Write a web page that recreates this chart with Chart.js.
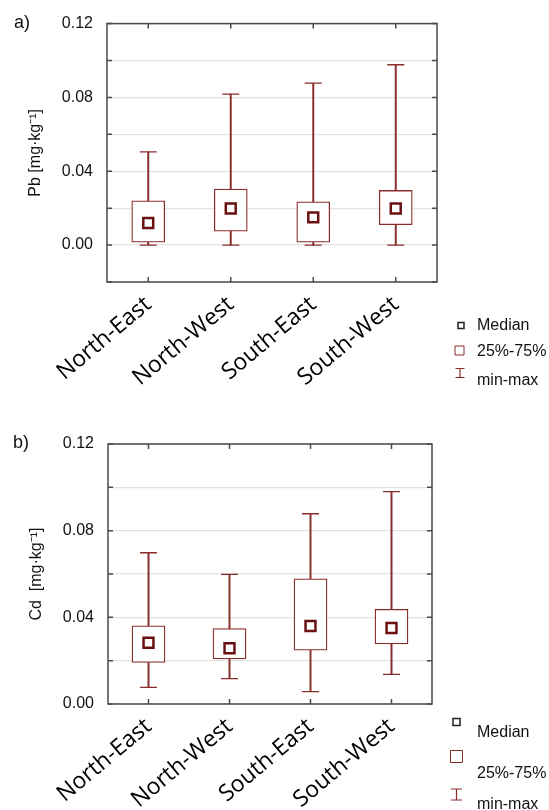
<!DOCTYPE html>
<html>
<head>
<meta charset="utf-8">
<script src="https://cdn.jsdelivr.net/npm/chart.js@4.4.1/dist/chart.umd.min.js"></script>
<style>
  html, body { margin: 0; padding: 0; background: #fff; }
  canvas { display: block; }
</style>
</head>
<body>
<canvas id="chart-pb" width="549" height="405"></canvas>
<canvas id="chart-cd" width="549" height="405"></canvas>
<script>
// regions on the x axis
const regions = ['North-East', 'North-West', 'South-East', 'South-West'];

// Pb [mg/kg] box stats, read off panel a)
const pbMin    = [0.0000, 0.0000, 0.0000, 0.0000];
const pbQ1     = [0.0016, 0.0075, 0.0016, 0.0111];
const pbMedian = [0.0120, 0.0198, 0.0150, 0.0198];
const pbQ3     = [0.0240, 0.0304, 0.0234, 0.0296];
const pbMax    = [0.0505, 0.0818, 0.0877, 0.0977];

// Cd [mg/kg] box stats, read off panel b)
const cdMin    = [0.0077, 0.0117, 0.0057, 0.0137];
const cdQ1     = [0.0192, 0.0208, 0.0248, 0.0277];
const cdMedian = [0.0283, 0.0257, 0.0360, 0.0351];
const cdQ3     = [0.0361, 0.0348, 0.0578, 0.0437];
const cdMax    = [0.0698, 0.0598, 0.0878, 0.0980];

// y ticks that carry a label
const yTickLabels = ['0.00', '0.04', '0.08', '0.12'];

const legendLabels = ['Median', '25%-75%', 'min-max'];

const boxColor = '#8a2c2c';
const medianColor = '#6a1010';

Chart.defaults.font.family = "'Liberation Sans', Arial, sans-serif";
Chart.defaults.color = '#111';

// box outline + inward tick marks round the plot area
const framePlugin = {
	id: 'frame',
	afterDatasetsDraw(chart) {
		const {ctx, chartArea: a, scales} = chart;
		ctx.save();
		ctx.strokeStyle = '#4a4a4a';
		ctx.lineWidth = 1.5;
		ctx.strokeRect(a.left, a.top, a.right - a.left, a.bottom - a.top);
		ctx.beginPath();
		scales.y.ticks.forEach(t => {
			const y = scales.y.getPixelForValue(t.value);
			ctx.moveTo(a.left, y);  ctx.lineTo(a.left + 5, y);
			ctx.moveTo(a.right, y); ctx.lineTo(a.right - 5, y);
		});
		scales.x.ticks.forEach((t, i) => {
			const x = scales.x.getPixelForTick(i);
			ctx.moveTo(x, a.top);    ctx.lineTo(x, a.top + 5);
			ctx.moveTo(x, a.bottom); ctx.lineTo(x, a.bottom - 5);
		});
		ctx.stroke();
		ctx.restore();
	}
};

// legend on the lower right and the panel letter
const sideLegendPlugin = {
	id: 'sideLegend',
	afterDraw(chart, args, o) {
		const ctx = chart.ctx;
		ctx.save();
		ctx.textBaseline = 'middle';
		ctx.fillStyle = '#111';
		ctx.font = '18px "Liberation Sans", Arial, sans-serif';
		ctx.fillText(o.panel, o.panelX, o.panelY);

		ctx.font = '16px "Liberation Sans", Arial, sans-serif';
		o.items.forEach((it, i) => {
			ctx.fillStyle = '#111';
			ctx.fillText(legendLabels[i], o.textX, it.textY);
			const s = it.size / 2;
			ctx.beginPath();
			if (i === 0) {
				ctx.strokeStyle = '#222';
				ctx.lineWidth = 1.5;
				ctx.rect(it.x - s, it.y - s, it.size, it.size);
			} else if (i === 1) {
				ctx.strokeStyle = boxColor;
				ctx.lineWidth = 1;
				ctx.rect(it.x - s, it.y - s, it.size, it.size);
			} else {
				ctx.strokeStyle = boxColor;
				ctx.lineWidth = 1.2;
				ctx.moveTo(it.x - s, it.y - s); ctx.lineTo(it.x + s, it.y - s);
				ctx.moveTo(it.x, it.y - s);     ctx.lineTo(it.x, it.y + s);
				ctx.moveTo(it.x - s, it.y + s); ctx.lineTo(it.x + s, it.y + s);
			}
			ctx.stroke();
		});
		ctx.restore();
	}
};

function boxDatasets(mins, q1s, meds, q3s, maxs) {
	return [
		{
			type: 'line', data: meds, showLine: false,
			pointStyle: 'rect', pointRadius: 7, pointHoverRadius: 7,
			borderColor: medianColor, backgroundColor: '#fff', borderWidth: 2.5, order: 0
		},{
			type: 'bar', data: q1s.map((q, i) => [q, q3s[i]]),
			backgroundColor: '#fff', borderColor: boxColor, borderWidth: 1.3,
			borderSkipped: false, barThickness: 33, grouped: false, order: 1
		},{
			type: 'bar', data: mins.map((m, i) => [m, q1s[i]]),
			backgroundColor: boxColor, borderWidth: 0, barThickness: 1.3, grouped: false, order: 2
		},{
			type: 'bar', data: q3s.map((q, i) => [q, maxs[i]]),
			backgroundColor: boxColor, borderWidth: 0, barThickness: 1.3, grouped: false, order: 2
		},{
			type: 'line', data: mins, showLine: false,
			pointStyle: 'line', pointRadius: 8.5, pointHoverRadius: 8.5,
			borderColor: boxColor, borderWidth: 1.3, order: 1
		},{
			type: 'line', data: maxs, showLine: false,
			pointStyle: 'line', pointRadius: 8.5, pointHoverRadius: 8.5,
			borderColor: boxColor, borderWidth: 1.3, order: 1
		}
	];
}

let charts = [
	{
		elementId: 'chart-pb',
		datasets:  boxDatasets(pbMin, pbQ1, pbMedian, pbQ3, pbMax),
		yTitle:    'Pb [mg·kg⁻¹]',
		yMin:      -0.02,
		yWidth:    107,
		xHeight:   123,
		pad:       { top: 20, right: 112 },
		titlePad:  26,
		legend: {
			panel: 'a)', panelX: 14, panelY: 23, textX: 477,
			items: [
				{ x: 461,   y: 325.5, size: 6, textY: 326 },
				{ x: 459.5, y: 350.5, size: 9, textY: 352 },
				{ x: 460,   y: 373,   size: 9, textY: 381 }
			]
		}
	},{
		elementId: 'chart-cd',
		datasets:  boxDatasets(cdMin, cdQ1, cdMedian, cdQ3, cdMax),
		yTitle:    'Cd  [mg·kg⁻¹]',
		yMin:      0,
		yWidth:    108,
		xHeight:   106,
		pad:       { top: 39, right: 117 },
		titlePad:  27,
		legend: {
			panel: 'b)', panelX: 13, panelY: 38, textX: 477,
			items: [
				{ x: 456.5, y: 317,   size: 7,  textY: 327.5 },
				{ x: 456.5, y: 351.5, size: 12, textY: 369 },
				{ x: 456.5, y: 389.5, size: 11, textY: 400 }
			]
		}
	}
];

for (let i = 0; i < charts.length; i++) {
	let c = charts[i];
	let ctx = document.getElementById(c.elementId).getContext('2d');

	new Chart(ctx, {
		type: 'bar',
		data: {
			labels: regions,
			datasets: c.datasets
		},
		plugins: [framePlugin, sideLegendPlugin],
		options: {
			responsive: false,
			animation: false,
			layout: { padding: { top: c.pad.top, right: c.pad.right, left: 0, bottom: 0 } },
			plugins: {
				legend:  { display: false },
				tooltip: { enabled: false },
				sideLegend: c.legend
			},
			scales: {
				x: {
					offset: true,
					grid:   { display: false },
					border: { display: false },
					ticks: {
						autoSkip: false, minRotation: 40, maxRotation: 40, padding: 1,
						color: '#000', font: { family: "'Open Sans', sans-serif", size: 23 }
					},
					afterFit: s => { s.height = c.xHeight; }
				},
				y: {
					min: c.yMin,
					max: 0.12,
					grid:   { color: '#e2e2e2', lineWidth: 1.2, drawTicks: false },
					border: { display: false },
					ticks: {
						stepSize: 0.02, padding: 14, font: { size: 16 },
						callback: v => {
							const s = (Math.round(v * 100) / 100).toFixed(2);
							return yTickLabels.includes(s) ? s : '';
						}
					},
					title: { display: true, text: c.yTitle, padding: { top: c.titlePad }, font: { size: 16 } },
					afterFit: s => { s.width = c.yWidth; }
				}
			}
		}
	});
}
</script>
</body>
</html>
